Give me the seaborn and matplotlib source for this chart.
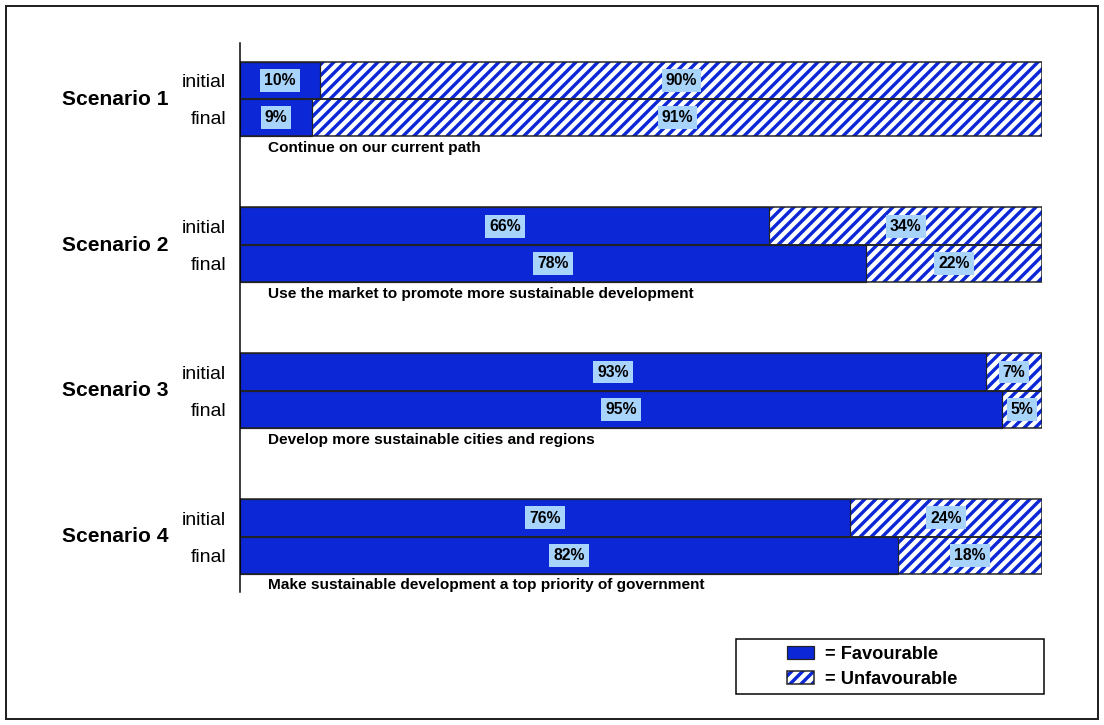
# scenario approval chart: favourable vs unfavourable, initial and final
import pandas as pd
import matplotlib
matplotlib.use('Agg')
import matplotlib.pyplot as plt
import seaborn as sns
from matplotlib.patches import Patch, Rectangle
from matplotlib.legend_handler import HandlerTuple

# data
scenarios = ['Scenario 1', 'Scenario 2', 'Scenario 3', 'Scenario 4']
descriptions = ['Continue on our current path',
                'Use the market to promote more sustainable development',
                'Develop more sustainable cities and regions',
                'Make sustainable development a top priority of government']
stages = ['initial', 'final']
initial_fav = [10, 66, 93, 76]
initial_unfav = [90, 34, 7, 24]
final_fav = [9, 78, 95, 82]
final_unfav = [91, 22, 5, 18]

# dpi 66 makes the '//' hatch spacing about 11 px like the original
DPI = 66
def pt(px):
    return px * 72 / DPI

BLUE = '#0b27d6'
LIGHT = '#a8d4fb'
EDGE = '#222222'
GROUP_STEP = 3.9

sns.set_style('white')
plt.rcParams['font.family'] = ['Liberation Sans', 'DejaVu Sans']
plt.rcParams['text.color'] = 'black'
plt.rcParams['ytick.color'] = 'black'
plt.rcParams['hatch.linewidth'] = pt(3.4)

# long table: one row per bar
rows = []
for g, sc in enumerate(scenarios):
    for s, (fav, unfav) in enumerate([(initial_fav[g], initial_unfav[g]),
                                      (final_fav[g], final_unfav[g])]):
        rows.append({'scenario': sc, 'stage': stages[s], 'group': g,
                     'pos': 1 + GROUP_STEP * g + s, 'fav': fav, 'unfav': unfav})
df = pd.DataFrame(rows)
df['total'] = df['fav'] + df['unfav']

fig = plt.figure(figsize=(1104.2 / DPI, 725.2 / DPI), dpi=DPI)
ax = fig.add_axes([240 / 1104, 1 - 592 / 725, 802 / 1104, 549 / 725])

# hatched unfavourable layer (full length), solid favourable on top, then outline
sns.barplot(data=df, x='total', y='pos', orient='h', native_scale=True, width=1,
            color='white', edgecolor=BLUE, linewidth=0, hatch='//',
            saturation=1, errorbar=None, ax=ax)
sns.barplot(data=df, x='fav', y='pos', orient='h', native_scale=True, width=1,
            color=BLUE, edgecolor=EDGE, linewidth=pt(1.2),
            saturation=1, errorbar=None, ax=ax)
sns.barplot(data=df, x='total', y='pos', orient='h', native_scale=True, width=1,
            color=EDGE, fill=False, linewidth=pt(1.5),
            saturation=1, errorbar=None, ax=ax)

# percentage labels
box = dict(boxstyle='square,pad=0.25', fc=LIGHT, ec='none')
for _, r in df.iterrows():
    ax.text(r['fav'] / 2, r['pos'], f"{r['fav']}%", ha='center', va='center',
            fontsize=pt(15.8), fontweight='bold', bbox=box)
    ax.text(r['fav'] + r['unfav'] / 2, r['pos'], f"{r['unfav']}%", ha='center',
            va='center', fontsize=pt(15.8), fontweight='bold', bbox=box)

# scenario names and descriptions
trans = ax.get_yaxis_transform()
for g, sc in enumerate(scenarios):
    y0 = 1 + GROUP_STEP * g
    ax.text(-72 / 802, y0 + 0.5, sc, transform=trans, ha='right', va='center',
            fontsize=pt(21), fontweight='bold')
    ax.text(28 / 802, y0 + 1.8, descriptions[g], transform=trans, ha='left',
            va='center', fontsize=pt(15.4), fontweight='bold')

ax.set_xlim(0, 100)
ax.set_ylim(14.68, 0)
ax.set_xticks([])
ax.set_yticks(df['pos'], df['stage'])
ax.tick_params(axis='y', length=0, pad=pt(14), labelsize=pt(19.4))
ax.set_xlabel('')
ax.set_ylabel('')
for side in ['top', 'right', 'bottom']:
    ax.spines[side].set_visible(False)
ax.spines['left'].set_color('black')
ax.spines['left'].set_linewidth(pt(1.5))

# legend
fav_handle = Patch(facecolor=BLUE, edgecolor=EDGE, linewidth=pt(1.2))
unfav_handle = (Patch(facecolor='white', edgecolor=BLUE, linewidth=0, hatch='//'),
                Patch(facecolor='none', edgecolor=EDGE, linewidth=pt(1.5)))
fig.legend([fav_handle, unfav_handle], ['= Favourable', '= Unfavourable'],
           loc='center left', bbox_to_anchor=(787 / 1104, 1 - 667 / 725),
           frameon=False, borderpad=0, borderaxespad=0,
           handlelength=26 / 18, handleheight=13 / 18, handletextpad=11 / 18,
           labelspacing=0.45, prop=dict(weight='bold', size=pt(18.3)),
           handler_map={tuple: HandlerTuple(ndivide=1)})
fig.add_artist(Rectangle((736 / 1104, 1 - 694 / 725), 308 / 1104, 55 / 725,
                         transform=fig.transFigure, fill=False,
                         edgecolor='black', linewidth=pt(1.5)))

# outer frame
fig.add_artist(Rectangle((6 / 1104, 1 - 719 / 725), 1092 / 1104, 713 / 725,
                         transform=fig.transFigure, fill=False,
                         edgecolor=EDGE, linewidth=pt(2)))

fig.savefig('out.png', dpi=DPI)
